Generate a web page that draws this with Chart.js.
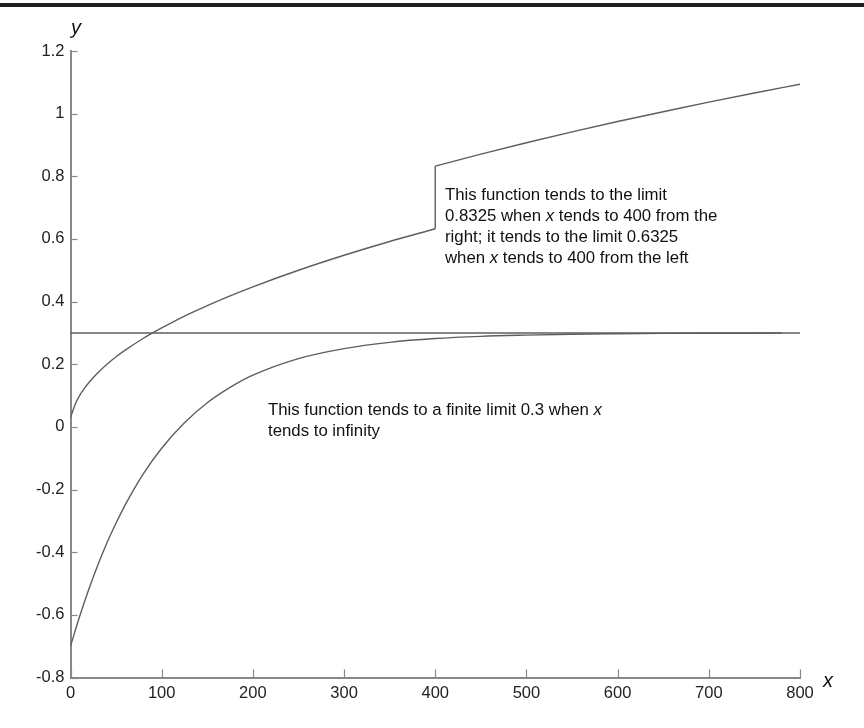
<!DOCTYPE html>
<html>
<head>
<meta charset="utf-8">
<script src="https://cdn.jsdelivr.net/npm/chart.js@4.4.1/dist/chart.umd.min.js"></script>
<style>
  html, body { margin: 0; padding: 0; background: #fff; }
  #wrap { position: relative; width: 864px; height: 728px; }
  #topbar { position: absolute; left: 0; top: 3px; width: 864px; height: 4px; background: #1e1e1e; }
  canvas { position: absolute; left: 0; top: 0; }
</style>
</head>
<body>
<div id="wrap">
  <canvas id="c" width="864" height="728"></canvas>
  <div id="topbar"></div>
</div>
<script>
// ---- Data ----
const upperLeftX  = [0, 3, 6, 10, 15, 20, 30, 40, 50, 60, 80, 100, 125, 150, 175, 200, 250, 300, 350, 400];
const upperLeftY  = [0.03, 0.055, 0.078, 0.10, 0.122, 0.141, 0.173, 0.20, 0.224, 0.245, 0.283, 0.316, 0.354, 0.387, 0.418, 0.447, 0.50, 0.548, 0.592, 0.6325];
const jumpX       = [400, 400];
const jumpY       = [0.6325, 0.8325];
const upperRightX = [400, 450, 500, 550, 600, 650, 700, 750, 800];
const upperRightY = [0.8325, 0.871, 0.907, 0.942, 0.975, 1.006, 1.037, 1.066, 1.094];
const lowerX      = [0, 10, 20, 30, 40, 50, 60, 80, 100, 125, 150, 175, 200, 250, 300, 350, 400, 450, 500, 550, 600, 650, 700, 780];
const lowerY      = [-0.70, -0.605, -0.519, -0.441, -0.37, -0.307, -0.249, -0.149, -0.068, 0.013, 0.077, 0.126, 0.165, 0.218, 0.250, 0.270, 0.282, 0.289, 0.293, 0.296, 0.2975, 0.2985, 0.299, 0.2996];
const limitX      = [0, 800];
const limitY      = [0.3, 0.3];
const xTicks      = [0, 100, 200, 300, 400, 500, 600, 700, 800];
const yTicks      = [-0.8, -0.6, -0.4, -0.2, 0, 0.2, 0.4, 0.6, 0.8, 1, 1.2];

const pts = (xs, ys) => xs.map((x, i) => ({ x: x, y: ys[i] }));
const LINE = '#5e5e5e';
const AXIS = '#888888';
const TXT  = '#111';
const FONT = "'Liberation Sans', Arial, Helvetica, sans-serif";

function ds(data, smooth) {
  return {
    data: data, borderColor: LINE, borderWidth: 1.4, pointRadius: 0,
    fill: false, tension: 0, cubicInterpolationMode: smooth ? 'monotone' : 'default'
  };
}

const annotations = {
  id: 'annotations',
  afterDraw(chart) {
    const ctx = chart.ctx;
    const xs = chart.scales.x, ys = chart.scales.y;
    ctx.save();
    // inward tick marks
    ctx.strokeStyle = AXIS; ctx.lineWidth = 1.2;
    xTicks.forEach(v => {
      const px = Math.round(xs.getPixelForValue(v)) + 0.5;
      ctx.beginPath(); ctx.moveTo(px, ys.bottom); ctx.lineTo(px, ys.bottom - 8); ctx.stroke();
    });
    yTicks.forEach(v => {
      const py = Math.round(ys.getPixelForValue(v)) + 0.5;
      ctx.beginPath(); ctx.moveTo(xs.left, py); ctx.lineTo(xs.left + 7, py); ctx.stroke();
    });
    // axis letters
    ctx.fillStyle = TXT; ctx.textBaseline = 'middle'; ctx.textAlign = 'left';
    ctx.font = "italic 20px " + FONT;
    ctx.fillText('y', 71, 28);
    ctx.fillText('x', 823, 681);
    // rich text lines
    function rich(x, y, parts) {
      let cx = x;
      parts.forEach(p => {
        ctx.font = (p[1] ? 'italic ' : '') + '16.8px ' + FONT;
        ctx.fillText(p[0], cx, y);
        cx += ctx.measureText(p[0]).width;
      });
    }
    rich(445, 195, [['This function tends to the limit', false]]);
    rich(445, 216, [['0.8325 when ', false], ['x', true], [' tends to 400 from the', false]]);
    rich(445, 237, [['right; it tends to the limit 0.6325', false]]);
    rich(445, 258, [['when ', false], ['x', true], [' tends to 400 from the left', false]]);
    rich(268, 410, [['This function tends to a finite limit 0.3 when ', false], ['x', true]]);
    rich(268, 431, [['tends to infinity', false]]);
    ctx.restore();
  }
};

new Chart(document.getElementById('c'), {
  type: 'line',
  data: {
    datasets: [
      ds(pts(limitX, limitY), false),
      ds(pts(upperLeftX, upperLeftY), true),
      ds(pts(jumpX, jumpY), false),
      ds(pts(upperRightX, upperRightY), true),
      ds(pts(lowerX, lowerY), true)
    ]
  },
  options: {
    responsive: false,
    animation: false,
    parsing: true,
    layout: { padding: { left: 0, right: 64, top: 51, bottom: 0 } },
    plugins: { legend: { display: false }, tooltip: { enabled: false } },
    scales: {
      x: {
        type: 'linear', min: 0, max: 800,
        afterBuildTicks: s => { s.ticks = xTicks.map(v => ({ value: v })); },
        afterFit: s => { s.height = 50.5; },
        grid: { display: false, drawTicks: false },
        border: { display: true, color: AXIS, width: 2 },
        ticks: { color: '#222', padding: 6, maxRotation: 0, font: { family: FONT, size: 16.5 },
                 callback: v => String(v) }
      },
      y: {
        type: 'linear', min: -0.8, max: 1.2,
        afterBuildTicks: s => { s.ticks = yTicks.map(v => ({ value: v })); },
        afterFit: s => { s.width = 70.5; },
        grid: { display: false, drawTicks: false },
        border: { display: true, color: AXIS, width: 2 },
        ticks: { color: '#222', padding: 6, font: { family: FONT, size: 16.5 },
                 callback: v => String(Math.round(v * 10) / 10) }
      }
    }
  },
  plugins: [annotations]
});
</script>
</body>
</html>
